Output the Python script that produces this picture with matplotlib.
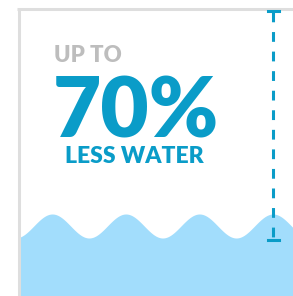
import numpy as np
import matplotlib.pyplot as plt

# text content
top_label = "UP TO"
big_value = "70%"
bottom_label = "LESS WATER"

# wave (pixel units of the 293x296 canvas)
wave_mid = 226.0
wave_amp = 12.0
wave_period = 73.6
wave_crest_x = 273.0

gray = "#bdbdbd"
border = "#dedede"
blue = "#0a9cc8"
water = "#a2ddfc"

W, H = 293, 296
fig = plt.figure(figsize=(W / 100, H / 100), dpi=100)
ax = fig.add_axes([0, 0, 1, 1])
ax.set_xlim(0, W)
ax.set_ylim(H, 0)
ax.axis("off")

# box border (left and top)
ax.plot([18.5, 18.5], [H, 9], color=border, lw=2.2, solid_capstyle="butt")
ax.plot([17.4, W], [9, 9], color=border, lw=2.2, solid_capstyle="butt")

# water wave
x = np.linspace(19.6, W, 600)
y = wave_mid - wave_amp * np.cos(2 * np.pi * (x - wave_crest_x) / wave_period)
ax.fill_between(x, y, H, color=water, lw=0)

# dashed height marker
ax.plot([273, 273], [12, 238], color=blue, lw=2.2, dashes=(3.2, 3.2))
ax.plot([267.5, 279], [10.5, 10.5], color=blue, lw=2.2)
ax.plot([267.5, 279], [240, 240], color=blue, lw=2.2)

font = "Lato"
ax.text(54, 62, top_label, color=gray, fontsize=16, fontweight="heavy",
        family=font, ha="left", va="baseline")
ax.text(53, 137, big_value, color=blue, fontsize=60, fontweight="heavy",
        family=font, ha="left", va="baseline")
ax.text(65, 163, bottom_label, color=blue, fontsize=16.5, fontweight="heavy",
        family=font, ha="left", va="baseline")

fig.savefig("out.png", dpi=100)
